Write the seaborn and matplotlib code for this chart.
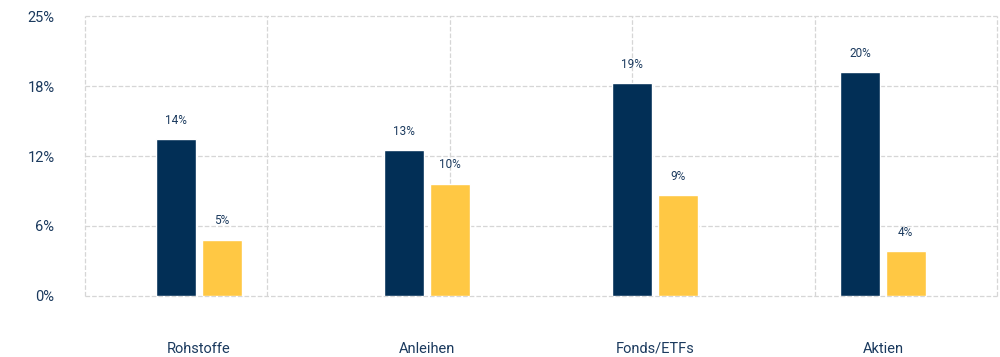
import numpy as np
import pandas as pd
import matplotlib
matplotlib.use("Agg")
import matplotlib.pyplot as plt
from matplotlib.ticker import FixedLocator
import seaborn as sns

# Daten
kategorien = ["Rohstoffe", "Anleihen", "Fonds/ETFs", "Aktien"]
reihe_dunkel = [14, 13, 19, 20]
reihe_gelb = [5, 10, 9, 4]
reihen_namen = ["Reihe 1", "Reihe 2"]
y_ticks = [0, 6.25, 12.5, 18.75, 25]
y_tick_labels = ["0%", "6%", "12%", "18%", "25%"]

FARBE_DUNKEL = "#022f56"
FARBE_GELB = "#FFC844"
FARBE_TEXT = "#1b3a5e"
FARBE_GRID = "#d6d6d6"

df = pd.DataFrame({
    "kategorie": kategorien * 2,
    "wert": reihe_dunkel + reihe_gelb,
    "reihe": [reihen_namen[0]] * 4 + [reihen_namen[1]] * 4,
})

sns.set_style("white")
plt.rcParams["font.family"] = ["Roboto", "DejaVu Sans"]

fig, ax = plt.subplots(figsize=(10, 3.57), dpi=100)
fig.subplots_adjust(left=0.085, right=0.997, bottom=0.171, top=0.955)

sns.barplot(
    data=df, x="kategorie", y="wert", hue="reihe",
    palette=[FARBE_DUNKEL, FARBE_GELB], saturation=1, width=0.4, gap=0.125,
    legend=False, ax=ax, zorder=3,
)

for container in ax.containers:
    ax.bar_label(container, labels=[f"{v:.0f}%" for v in container.datavalues],
                 padding=9, fontsize=8.5, color=FARBE_TEXT)

ax.set_xlim(-0.5, 3.5)
ax.set_ylim(0, 25)
ax.set_yticks(y_ticks)
ax.set_yticklabels(y_tick_labels)

# vertikale Hilfslinien unabhaengig von den Kategorien
ax.xaxis.set_minor_locator(FixedLocator(np.linspace(-0.5, 3.5, 6)))
ax.grid(axis="y", which="major", linestyle="--", color=FARBE_GRID, linewidth=0.9, zorder=0)
ax.grid(axis="x", which="minor", linestyle="--", color=FARBE_GRID, linewidth=0.9, zorder=0)
ax.set_axisbelow(True)
for tick in ax.yaxis.get_major_ticks() + ax.xaxis.get_minor_ticks():
    tick.gridline.set_clip_on(False)

ax.tick_params(axis="y", length=0, pad=22, labelsize=10.5, labelcolor=FARBE_TEXT)
ax.tick_params(axis="x", which="both", length=0, pad=33, labelsize=10.5, labelcolor=FARBE_TEXT)
ax.set_xlabel("")
ax.set_ylabel("")
for s in ax.spines.values():
    s.set_visible(False)

fig.savefig("out.png", dpi=100)
